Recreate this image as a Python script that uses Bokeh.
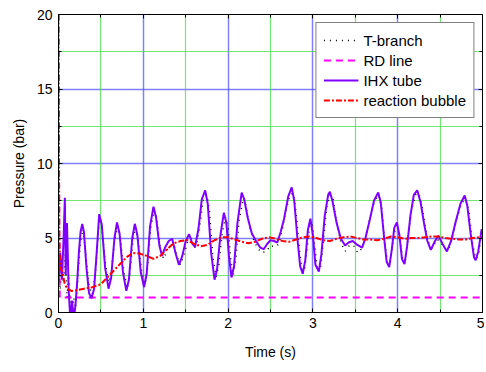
from bokeh.plotting import figure
from bokeh.models import LinearAxis, SingleIntervalTicker, FixedTicker, Range1d, Legend, LegendItem, Grid
from bokeh.embed import file_html
from bokeh.resources import INLINE

# ---------------- data ----------------
ihx_t = [0.00, 0.02, 0.04, 0.06, 0.075, 0.085, 0.10, 0.12, 0.14, 0.16, 0.18, 0.20, 0.22, 0.24, 0.26, 0.28,
         0.30, 0.33, 0.36, 0.39, 0.42, 0.45, 0.48, 0.51, 0.55, 0.59, 0.62, 0.66, 0.69, 0.72, 0.76, 0.80,
         0.83, 0.87, 0.90, 0.93, 0.97, 1.01, 1.04, 1.08, 1.12, 1.15, 1.19, 1.22, 1.26, 1.30, 1.34, 1.38,
         1.42, 1.46, 1.50, 1.54, 1.58, 1.61, 1.65, 1.69, 1.73, 1.76, 1.80, 1.84, 1.87, 1.91, 1.95, 1.98,
         2.01, 2.04, 2.07, 2.11, 2.16, 2.19, 2.23, 2.28, 2.33, 2.38, 2.42, 2.46, 2.50, 2.54, 2.58, 2.62,
         2.66, 2.71, 2.75, 2.78, 2.82, 2.85, 2.88, 2.91, 2.94, 2.97, 3.00, 3.03, 3.07, 3.10, 3.14, 3.18,
         3.20, 3.23, 3.28, 3.33, 3.38, 3.42, 3.47, 3.52, 3.58, 3.62, 3.67, 3.72, 3.77, 3.80, 3.84, 3.87,
         3.90, 3.93, 3.96, 3.99, 4.02, 4.05, 4.08, 4.11, 4.15, 4.19, 4.23, 4.27, 4.31, 4.35, 4.39, 4.44,
         4.48, 4.53, 4.58, 4.63, 4.68, 4.74, 4.79, 4.82, 4.86, 4.90, 4.92, 4.95, 4.99]
ihx_p = [2.0, 4.0, 2.2, 5.0, 7.7, 2.5, 6.0, 1.5, -0.5, 0.8, -0.5, 0.5, 2.0, 4.0, 5.4, 5.95,
         5.4, 3.0, 1.3, 0.95, 1.6, 4.0, 6.6, 5.9, 3.0, 1.6, 2.3, 5.0, 6.05, 5.3, 2.7, 1.45,
         2.2, 5.0, 5.95, 5.2, 2.7, 1.7, 2.6, 5.8, 7.1, 6.4, 4.5, 3.8, 4.4, 4.8, 4.95, 4.0,
         3.2, 3.8, 4.8, 5.25, 4.6, 4.4, 5.6, 7.6, 8.2, 7.3, 4.0, 2.2, 2.9, 5.2, 6.7, 6.0,
         3.8, 2.35, 3.1, 6.0, 8.05, 7.6, 6.4, 5.3, 4.8, 4.35, 4.25, 4.6, 4.85, 4.8, 4.7, 5.4,
         6.3, 7.8, 8.4, 7.5, 4.8, 3.1, 2.6, 3.5, 5.5, 6.3, 5.2, 3.2, 2.75, 3.9, 6.5, 7.9,
         8.1, 7.5, 6.0, 4.95, 4.5, 4.7, 4.8, 4.55, 4.35, 5.0, 6.2, 7.5, 8.05, 7.4, 5.0, 3.4,
         3.05, 4.2, 5.7, 6.05, 5.2, 3.6, 3.25, 4.4, 6.5, 7.9, 8.2, 7.4, 6.0, 4.8, 4.2, 4.8,
         5.15, 4.6, 4.1, 4.8, 6.0, 7.3, 7.85, 7.2, 5.3, 3.7, 3.5, 4.1, 5.6]

tb_t = [0.00, 0.02, 0.04, 0.06, 0.08, 0.10, 0.12, 0.14, 0.16, 0.18, 0.20, 0.23, 0.26, 0.29, 0.32, 0.36,
        0.40, 0.44, 0.48, 0.51, 0.55, 0.59, 0.62, 0.66, 0.70, 0.73, 0.77, 0.81, 0.84, 0.88, 0.91, 0.94,
        0.98, 1.02, 1.05, 1.09, 1.13, 1.16, 1.20, 1.24, 1.28, 1.32, 1.36, 1.40, 1.44, 1.48, 1.52, 1.56,
        1.60, 1.63, 1.67, 1.71, 1.75, 1.78, 1.82, 1.86, 1.89, 1.93, 1.97, 2.00, 2.03, 2.06, 2.09, 2.13,
        2.18, 2.21, 2.25, 2.30, 2.35, 2.40, 2.45, 2.50, 2.55, 2.60, 2.64, 2.68, 2.73, 2.77, 2.80, 2.84,
        2.87, 2.90, 2.93, 2.96, 2.99, 3.02, 3.05, 3.09, 3.12, 3.16, 3.20, 3.24, 3.28, 3.33, 3.38, 3.43,
        3.48, 3.53, 3.58, 3.62, 3.67, 3.72, 3.77, 3.81, 3.85, 3.88, 3.91, 3.94, 3.97, 4.00, 4.03, 4.06,
        4.09, 4.12, 4.16, 4.21, 4.25, 4.29, 4.33, 4.37, 4.41, 4.46, 4.50, 4.55, 4.60, 4.65, 4.70, 4.76,
        4.80, 4.84, 4.88, 4.92, 4.95, 4.99]
tb_p = [3.0, 1.5, 3.5, 2.0, 4.0, 1.0, 2.5, 0.5, -0.3, 1.0, 0.3, 2.5, 4.8, 5.6, 4.0, 1.8,
        1.2, 3.0, 6.3, 5.8, 3.4, 2.0, 2.6, 4.8, 5.8, 5.0, 2.8, 1.6, 2.5, 5.0, 5.7, 4.8,
        2.8, 1.9, 3.0, 5.8, 6.9, 6.2, 4.3, 3.6, 4.2, 4.5, 4.6, 3.7, 3.2, 3.9, 4.7, 5.0,
        4.3, 4.6, 6.0, 7.7, 7.9, 6.8, 3.7, 2.4, 3.2, 5.3, 6.4, 5.7, 3.6, 2.5, 3.5, 6.2,
        7.7, 7.2, 5.8, 4.9, 4.3, 4.0, 4.1, 4.5, 4.4, 4.6, 5.6, 6.8, 7.9, 8.0, 6.8, 4.3,
        2.9, 2.8, 4.2, 5.8, 6.0, 4.6, 3.0, 3.0, 4.6, 7.0, 7.9, 7.6, 6.0, 4.7, 4.1, 4.5,
        4.5, 4.0, 4.3, 5.0, 6.3, 7.3, 7.9, 7.1, 4.6, 3.3, 3.3, 4.6, 5.6, 5.7, 4.8, 3.5,
        3.5, 4.9, 6.8, 7.9, 8.0, 7.0, 5.6, 4.6, 4.3, 4.9, 4.8, 4.3, 4.2, 5.2, 6.4, 7.4,
        7.6, 6.8, 4.7, 3.6, 3.8, 5.3]

rd_t = [0.00, 0.008, 0.015, 0.03, 5.00]
rd_p = [20.0, 6.0, 1.0, 1.0, 1.0]

rb_t = [0.00, 0.005, 0.01, 0.02, 0.04, 0.07, 0.10, 0.15, 0.22, 0.30, 0.40, 0.50, 0.60, 0.70, 0.80, 0.88,
        0.96, 1.04, 1.12, 1.20, 1.28, 1.36, 1.44, 1.52, 1.60, 1.68, 1.76, 1.84, 1.92, 2.00, 2.08, 2.16,
        2.24, 2.32, 2.40, 2.48, 2.56, 2.64, 2.72, 2.80, 2.88, 2.96, 3.04, 3.12, 3.20, 3.28, 3.36, 3.44,
        3.52, 3.60, 3.68, 3.76, 3.84, 3.92, 4.00, 4.08, 4.16, 4.24, 4.32, 4.40, 4.48, 4.56, 4.64, 4.72,
        4.80, 4.88, 4.96, 5.00]
rb_p = [20.0, 12.0, 5.0, 3.0, 2.8, 2.0, 1.6, 1.45, 1.5, 1.6, 1.7, 1.9, 2.5, 3.1, 3.7, 4.0,
        3.95, 3.8, 3.6, 3.8, 4.25, 4.65, 4.8, 4.85, 4.6, 4.45, 4.55, 4.85, 5.05, 5.05, 4.9, 4.75,
        4.65, 4.75, 4.95, 5.05, 4.95, 4.8, 4.75, 4.9, 5.05, 5.1, 5.0, 4.85, 4.8, 4.95, 5.05, 5.1,
        5.0, 4.9, 4.9, 4.85, 4.95, 5.1, 5.05, 4.95, 5.0, 5.0, 5.05, 5.1, 5.1, 5.0, 4.95, 4.9,
        4.9, 5.0, 5.05, 5.05]

x_max = 5
y_max = 20
x_ticks_interval = 1
y_ticks_interval = 5

# ---------------- figure ----------------
FONT = "Liberation Sans"
AX_FS = "14px"
p = figure(width=484, height=364, output_backend="svg", toolbar_location=None,
           x_range=Range1d(0, x_max), y_range=Range1d(0, y_max),
           min_border_left=58, min_border_right=2, min_border_top=14, min_border_bottom=52)
p.outline_line_color = "black"
p.outline_line_width = 1

xt = SingleIntervalTicker(interval=x_ticks_interval, num_minor_ticks=2)
yt = SingleIntervalTicker(interval=y_ticks_interval, num_minor_ticks=2)
p.xaxis.ticker = xt
p.yaxis.ticker = yt

# blue grid at the labelled ticks
p.xgrid.ticker = SingleIntervalTicker(interval=x_ticks_interval, num_minor_ticks=0)
p.ygrid.ticker = SingleIntervalTicker(interval=y_ticks_interval, num_minor_ticks=0)
for g in (p.xgrid, p.ygrid):
    g.grid_line_color = "#4a4aff"
    g.grid_line_width = 1.5
    g.grid_line_alpha = 0.7
    g.minor_grid_line_color = None

# green grid halfway between them
x_half = [x_ticks_interval * (k + 0.5) for k in range(int(x_max / x_ticks_interval))]
y_half = [y_ticks_interval * (k + 0.5) for k in range(int(y_max / y_ticks_interval))]
p.add_layout(Grid(dimension=0, ticker=FixedTicker(ticks=x_half),
                  grid_line_color="#44dd44", grid_line_width=1.2, grid_line_alpha=0.75))
p.add_layout(Grid(dimension=1, ticker=FixedTicker(ticks=y_half),
                  grid_line_color="#44dd44", grid_line_width=1.2, grid_line_alpha=0.75))

def style_axis(ax, labels=True):
    ax.major_tick_in = 4
    ax.major_tick_out = 0
    ax.minor_tick_in = 3
    ax.minor_tick_out = 0
    ax.axis_line_color = "black"
    ax.major_tick_line_color = "black"
    ax.minor_tick_line_color = "black"
    ax.major_label_text_font = FONT
    ax.major_label_text_font_size = AX_FS
    ax.major_label_text_color = "black" if labels else None
    ax.axis_label_text_font = FONT
    ax.axis_label_text_font_size = AX_FS
    ax.axis_label_text_font_style = "normal"
    ax.axis_label_text_color = "black"

style_axis(p.xaxis[0])
style_axis(p.yaxis[0])
p.xaxis.axis_label = "Time (s)"
p.yaxis.axis_label = "Pressure (bar)"
p.xaxis.major_label_standoff = 5
p.yaxis.major_label_standoff = 6
p.xaxis.axis_label_standoff = 13
p.yaxis.axis_label_standoff = 7

top_ax = LinearAxis(ticker=xt)
right_ax = LinearAxis(ticker=yt)
style_axis(top_ax, labels=False)
style_axis(right_ax, labels=False)
top_ax.major_label_text_font_size = "0px"
right_ax.major_label_text_font_size = "0px"
top_ax.major_label_standoff = 0
right_ax.major_label_standoff = 0
p.add_layout(top_ax, "above")
p.add_layout(right_ax, "right")

r_tb = p.line(tb_t, tb_p, line_color="black", line_width=1.5, line_dash="1 5")
r_rd = p.line(rd_t, rd_p, line_color="#ff00ff", line_width=2, line_dash="7 5")
r_ihx = p.line(ihx_t, ihx_p, line_color="#8000ff", line_width=2)
r_rb = p.line(rb_t, rb_p, line_color="#ff0000", line_width=2, line_dash="6 2 2 2")

legend = Legend(items=[
    LegendItem(label="T-branch", renderers=[r_tb]),
    LegendItem(label="RD line", renderers=[r_rd]),
    LegendItem(label="IHX tube", renderers=[r_ihx]),
    LegendItem(label="reaction bubble", renderers=[r_rb]),
], location="top_right")
legend.border_line_color = "black"
legend.border_line_width = 1
legend.background_fill_color = "white"
legend.background_fill_alpha = 1
legend.label_text_font = FONT
legend.label_text_font_size = "15px"
legend.label_text_color = "black"
legend.glyph_width = 35
legend.glyph_height = 20
legend.label_height = 20
legend.label_standoff = 5
legend.spacing = 0
legend.padding = 7
legend.margin = 8
p.add_layout(legend, "center")

open("out.html", "w").write(file_html(p, INLINE))
